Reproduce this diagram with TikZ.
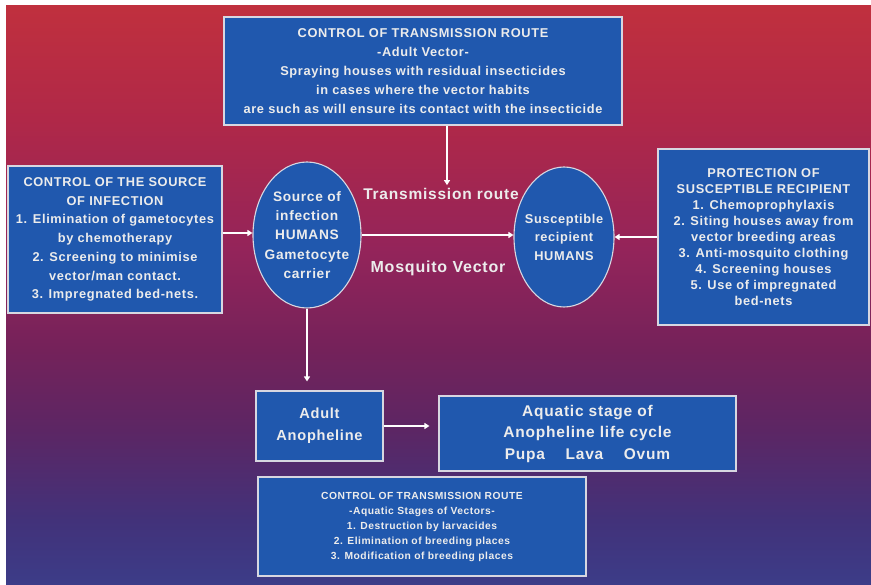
\documentclass[tikz,border=0pt]{standalone}
\usepackage{fontspec}
\setmainfont{Liberation Sans}[LetterSpace=5]
\usetikzlibrary{shapes.geometric,arrows.meta}
\definecolor{boxblue}{RGB}{32,88,174}
\definecolor{txt}{RGB}{236,236,236}
\definecolor{edge}{RGB}{215,215,225}
\definecolor{bgA}{RGB}{192,48,62}
\definecolor{bgB}{RGB}{176,40,72}
\definecolor{bgC}{RGB}{148,36,90}
\definecolor{bgD}{RGB}{116,34,90}
\definecolor{bgE}{RGB}{92,38,100}
\definecolor{bgF}{RGB}{66,50,122}
\definecolor{bgG}{RGB}{60,60,136}
\pgfdeclareverticalshading{slidebg}{100bp}{color(0bp)=(bgG); color(25bp)=(bgG); color(30.6bp)=(bgF); color(38.4bp)=(bgE); color(45.3bp)=(bgD); color(54bp)=(bgC); color(65.2bp)=(bgB); color(75bp)=(bgA); color(100bp)=(bgA)}
\tikzset{
  bluebox/.style={draw=edge, line width=1.1pt, fill=boxblue, text=txt, align=center, inner sep=0pt, font=\bfseries},
  blueell/.style={ellipse, draw=edge, line width=1.1pt, fill=boxblue, text=txt, align=center, inner sep=-10pt, font=\bfseries},
  label/.style={text=txt, font=\bfseries, inner sep=1pt},
  arr/.style={draw=white, line width=1.6pt, -{Triangle[width=6pt,length=5pt]}}
}
\begin{document}
\begin{tikzpicture}[x=1pt,y=-1pt]
\useasboundingbox (0,0) rectangle (871,585);
\fill[white] (0,0) rectangle (871,585);
\shade[shading=slidebg] (6,6) rectangle (871,585);

\node[bluebox, minimum width=398pt, minimum height=108pt, font=\bfseries\fontsize{12.8}{19}\selectfont] (top) at (423,71)
 {CONTROL OF TRANSMISSION ROUTE\\ -Adult Vector-\\ Spraying houses with residual insecticides\\ in cases where the vector habits\\ are such as will ensure its contact with the insecticide};

\node[bluebox, minimum width=214pt, minimum height=147pt, font=\bfseries\fontsize{12.8}{18.7}\selectfont] (lbox) at (115,239.5)
 {CONTROL OF THE SOURCE\\ OF INFECTION\\ 1. Elimination of gametocytes\\ by chemotherapy\\ 2. Screening to minimise\\ vector/man contact.\\ 3. Impregnated bed-nets.};

\node[bluebox, minimum width=211pt, minimum height=176pt, font=\bfseries\fontsize{12.8}{15.9}\selectfont] (rbox) at (763.5,237)
 {PROTECTION OF\\ SUSCEPTIBLE RECIPIENT\\ 1. Chemoprophylaxis\\ 2. Siting houses away from\\ vector breeding areas\\ 3. Anti-mosquito clothing\\ 4. Screening houses\\ 5. Use of impregnated\\ bed-nets};

\node[blueell, minimum width=108pt, minimum height=146pt, font=\bfseries\fontsize{13.7}{19.2}\selectfont] (src) at (307,235)
 {Source of\\ infection\\ HUMANS\\ Gametocyte\\ carrier};

\node[blueell, minimum width=100pt, minimum height=140pt, font=\bfseries\fontsize{12.8}{18.5}\selectfont] (rec) at (564,237)
 {Susceptible\\ recipient\\ HUMANS};

\node[label, font=\bfseries\fontsize{15.5}{20}\selectfont] (trans) at (441,194) {Transmission route};
\node[label, font=\bfseries\fontsize{16}{20}\selectfont] (mosq) at (438,268) {Mosquito Vector};

\node[bluebox, minimum width=127pt, minimum height=70pt, font=\bfseries\fontsize{14.6}{22}\selectfont] (adult) at (319.5,426)
 {Adult\\ Anopheline};

\node[bluebox, minimum width=297pt, minimum height=75pt, font=\bfseries\fontsize{15.5}{21.5}\selectfont] (aq) at (587.5,433.5)
 {Aquatic stage of\\ Anopheline life cycle\\ Pupa\quad\ Lava\quad\ Ovum};

\node[bluebox, minimum width=328pt, minimum height=99pt, font=\bfseries\fontsize{10.3}{15}\selectfont] (bot) at (422,526.5)
 {CONTROL OF TRANSMISSION ROUTE\\ -Aquatic Stages of Vectors-\\ 1. Destruction by larvacides\\ 2. Elimination of breeding places\\ 3. Modification of breeding places};

\coordinate (tx) at (447,0);
\coordinate (ya) at (0,233);
\draw[arr] (top.south -| tx) -- ([yshift=2pt]trans.north -| tx);
\draw[arr] (lbox.east |- ya) -- (src.west |- ya);
\draw[arr] (src.east) -- (src.east -| rec.west);
\draw[arr] (rbox.west |- rec.east) -- (rec.east);
\draw[arr, shorten >=9pt] (src.south) -- (adult.north -| src.south);
\draw[arr, shorten >=9pt] (adult.east) -- (adult.east -| aq.west);
\end{tikzpicture}
\end{document}
